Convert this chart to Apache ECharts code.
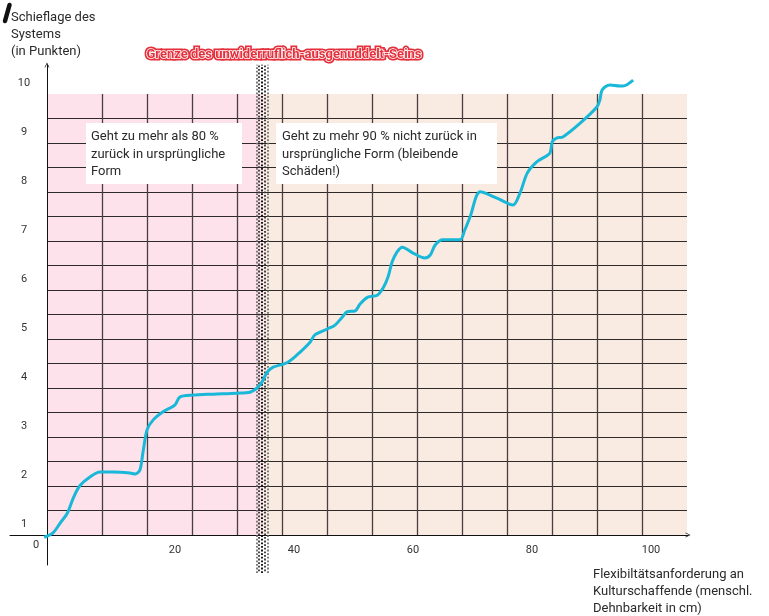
<!DOCTYPE html>
<html>
<head>
<meta charset="utf-8">
<script src="https://cdn.jsdelivr.net/npm/echarts@6/dist/echarts.min.js"></script>
<style>
  html, body { margin: 0; padding: 0; background: #fff; }
  #chart { width: 769px; height: 616px; }
</style>
</head>
<body>
<div id="chart"></div>
<script>
// tick labels
const xTicks = [20, 40, 60, 80, 100];
const yTicks = [1, 2, 3, 4, 5, 6, 7, 8, 9, 10];
const originLabel = '0';

// the curve (x: Dehnbarkeit in cm, y: Schieflage in Punkten)
const curveX = [-2.0, -0.5, 0.7, 1.9, 2.9, 4.0, 5.7, 7.4, 9.6, 12.4, 13.3, 14.1, 14.6, 15.3, 16.3, 18.0,
  20.0, 20.8, 23.0, 26.4, 30.4, 32.6, 34.3, 35.5, 36.5, 38.8, 40.5, 42.7, 43.5, 45.6, 46.9, 48.1,
  48.9, 50.3, 51.1, 52.4, 54.0, 55.0, 55.8, 56.5, 57.3, 58.2, 60.0, 62.0, 62.9, 63.7, 65.0, 67.9,
  68.7, 69.6, 71.3, 74.1, 76.8, 78.0, 79.2, 80.8, 83.0, 83.4, 84.2, 85.2, 88.1, 90.9, 91.4, 91.8,
  93.1, 94.8, 95.3, 97.0];
const curveY = [0.73, 0.82, 1.02, 1.22, 1.53, 1.78, 1.96, 2.06, 2.06, 2.04, 2.02, 2.10, 2.45, 2.92, 3.12, 3.29,
  3.43, 3.59, 3.63, 3.65, 3.67, 3.69, 3.84, 4.10, 4.20, 4.29, 4.45, 4.71, 4.86, 4.98, 5.06, 5.22,
  5.33, 5.35, 5.49, 5.63, 5.67, 5.82, 6.04, 6.35, 6.55, 6.65, 6.53, 6.43, 6.49, 6.69, 6.80, 6.80,
  7.00, 7.27, 7.78, 7.65, 7.51, 7.76, 8.16, 8.39, 8.57, 8.80, 8.88, 8.90, 9.18, 9.51, 9.65, 9.86,
  9.96, 9.94, 9.94, 10.06];

// Grenze (dotted vertical line)
const limitX = 34.6;
const limitTop = 10.37;

const FONT = 'Roboto, "Noto Sans", sans-serif';
const arrowPath = 'path://M0,10 L5,0 L10,10 L8.6,10 L5,2.8 L1.4,10 Z';

// halftone column of dots for the limit line
const dotCols = [
  { off: -0.94, color: '#707070', dash: 0 },
  { off: -0.47, color: '#333', dash: 1.8 },
  { off: 0, color: '#000', dash: 0 },
  { off: 0.47, color: '#333', dash: 1.8 },
  { off: 0.94, color: '#707070', dash: 0 }
];
const limitLines = dotCols.map(c => [
  { coord: [limitX + c.off, 0], lineStyle: { color: c.color, width: 1.8, type: [1.8, 1.8], dashOffset: c.dash } },
  { coord: [limitX + c.off, limitTop] }
]);

const hidden = { show: false };
const chart = echarts.init(document.getElementById('chart'));
chart.setOption({
  animation: false,
  backgroundColor: '#fff',
  textStyle: { fontFamily: FONT },
  grid: [
    { left: 44.1, top: 58.5, width: 642.6, height: 514.5, containLabel: false },        // data
    { left: 47, top: 94, width: 640, height: 441 },                                      // horizontal lines
    { left: 57, top: 94, width: 630, height: 441 },                                      // vertical lines
    { left: 47, top: 94, width: 215, height: 441, show: true, backgroundColor: '#fde1eb', borderWidth: 0 },
    { left: 262, top: 94, width: 425, height: 441, show: true, backgroundColor: '#f9ebe2', borderWidth: 0 },
    { left: 10, top: 525, width: 678, height: 10 },                                      // x axis line
    { left: 47, top: 65, width: 10, height: 500 }                                        // y axis line
  ],
  xAxis: [
    {
      gridIndex: 0, type: 'value', min: -2, max: 106, offset: -38,
      axisLine: { show: false, onZero: false }, axisTick: hidden, splitLine: hidden,
      axisLabel: { margin: 10, color: '#333', fontSize: 11, customValues: xTicks }
    },
    { gridIndex: 1, type: 'value', min: 0, max: 1, show: false },
    {
      gridIndex: 2, type: 'value', min: 0, max: 14, interval: 1, z: 1,
      axisLine: hidden, axisTick: hidden, axisLabel: hidden,
      splitLine: { show: true, showMinLine: false, showMaxLine: false, lineStyle: { color: '#4a3f40', width: 1.3 } }
    },
    {
      gridIndex: 5, type: 'value', min: 0, max: 1, z: 3,
      axisLine: { show: true, onZero: false, symbol: ['none', arrowPath], symbolSize: [8, 5], lineStyle: { color: '#111', width: 1 } },
      axisTick: hidden, axisLabel: hidden, splitLine: hidden
    },
    { gridIndex: 6, type: 'value', min: 0, max: 1, show: false }
  ],
  yAxis: [
    {
      gridIndex: 0, type: 'value', min: 0, max: 10.5,
      axisLine: { show: false, onZero: false }, axisTick: hidden, splitLine: hidden,
      axisLabel: { margin: 20.1, align: 'center', color: '#333', fontSize: 11, customValues: yTicks }
    },
    {
      gridIndex: 1, type: 'value', min: 0, max: 18, interval: 1, z: 1,
      axisLine: hidden, axisTick: hidden, axisLabel: hidden,
      splitLine: { show: true, showMinLine: false, showMaxLine: false, lineStyle: { color: '#2e2a2a', width: 1.2 } }
    },
    { gridIndex: 2, type: 'value', min: 0, max: 1, show: false },
    { gridIndex: 5, type: 'value', min: 0, max: 1, show: false },
    {
      gridIndex: 6, type: 'value', min: 0, max: 1, z: 3,
      axisLine: { show: true, onZero: false, symbol: ['none', arrowPath], symbolSize: [8, 5], lineStyle: { color: '#111', width: 1 } },
      axisTick: hidden, axisLabel: hidden, splitLine: hidden
    }
  ],
  series: [
    {
      type: 'line',
      xAxisIndex: 0, yAxisIndex: 0,
      data: curveX.map((x, i) => [x, curveY[i]]),
      showSymbol: false,
      smooth: 0.3,
      clip: false,
      z: 5,
      lineStyle: { color: '#19b7d8', width: 3 },
      markLine: {
        silent: true, symbol: 'none', animation: false,
        label: { show: false },
        data: limitLines
      }
    }
  ],
  graphic: [
    { type: 'line', z: 10, shape: { x1: 9.5, y1: 5, x2: 5, y2: 21 }, style: { stroke: '#111', lineWidth: 4.5, lineCap: 'round' } },
    {
      type: 'text', z: 10, left: 11, top: 9.5,
      style: { text: 'Schieflage des\nSystems\n(in Punkten)', font: '13px ' + FONT, fill: '#2a2a2a', lineHeight: 17 }
    },
    {
      type: 'text', z: 10, x: 284, y: 55,
      style: { text: 'Grenze des unwiderruflich-ausgenuddelt-Seins', font: 'bold 13px ' + FONT, fill: '#e4303c',
        stroke: '#e4303c', lineWidth: 5, align: 'center', verticalAlign: 'middle' }
    },
    {
      type: 'text', z: 11, x: 284, y: 55,
      style: { text: 'Grenze des unwiderruflich-ausgenuddelt-Seins', font: 'bold 13px ' + FONT, fill: '#e4303c',
        stroke: '#fff', lineWidth: 1.6, strokeFirst: true, align: 'center', verticalAlign: 'middle' }
    },
    { type: 'rect', z: 20, shape: { x: 86, y: 123, width: 156, height: 61 }, style: { fill: '#fff' } },
    { type: 'text', z: 21, x: 91, y: 128, style: { text: 'Geht zu mehr als 80 %\nzurück in ursprüngliche\nForm', font: '13px ' + FONT, fill: '#2a2a2a', lineHeight: 17.5 } },
    { type: 'rect', z: 20, shape: { x: 276, y: 123, width: 221, height: 61 }, style: { fill: '#fff' } },
    { type: 'text', z: 21, x: 282, y: 128, style: { text: 'Geht zu mehr 90 % nicht zurück in\nursprüngliche Form (bleibende\nSchäden!)', font: '13px ' + FONT, fill: '#2a2a2a', lineHeight: 17.5 } },
    {
      type: 'text', z: 10, x: 36, y: 545,
      style: { text: originLabel, font: '11px ' + FONT, fill: '#333', align: 'center', verticalAlign: 'middle' }
    },
    {
      type: 'text', z: 10, x: 593, y: 566.5,
      style: { text: 'Flexibiltätsanforderung an\nKulturschaffende (menschl.\nDehnbarkeit in cm)', font: '13px ' + FONT, fill: '#2a2a2a', lineHeight: 17 }
    }
  ]
});
</script>
</body>
</html>
